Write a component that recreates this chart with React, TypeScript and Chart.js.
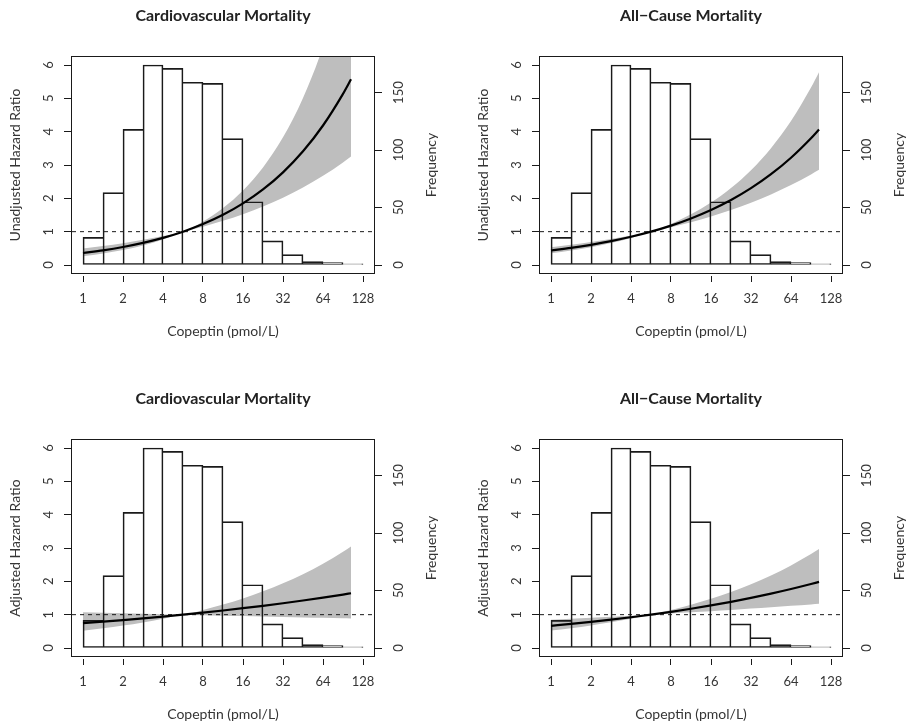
import React, { useEffect, useRef } from 'react';
import { Chart, registerables } from 'chart.js';

Chart.register(...registerables);

// ---------- data ----------
// copeptin values (pmol/L) at which the hazard-ratio curves were read
const copeptinGrid = [1, 1.4142, 2, 2.8284, 4, 5.6569, 8, 11.3137, 16, 22.6274, 32, 45.2548, 64, 90.5097, 104];

// histogram of copeptin (same in all four panels)
const histBinEdges = [1, 1.4142, 2, 2.8284, 4, 5.6569, 8, 11.3137, 16, 22.6274, 32, 45.2548, 64, 90.5097, 128];
const histFrequency = [24, 63, 118, 174, 171, 159, 158, 110, 55, 21, 9, 3, 2, 1];

// tick labels
const xTickLabels = [1, 2, 4, 8, 16, 32, 64, 128];
const hrTicks = [0, 1, 2, 3, 4, 5, 6];
const freqTicks = [0, 50, 100, 150];
const referenceHR = 1;

// Cardiovascular mortality, unadjusted
const cvUnadjHR = [0.36, 0.441, 0.541, 0.664, 0.815, 1, 1.227, 1.505, 1.847, 2.266, 2.78, 3.411, 4.185, 5.135, 5.572];
const cvUnadjLo = [0.261, 0.342, 0.447, 0.585, 0.765, 1, 1.151, 1.325, 1.524, 1.754, 2.019, 2.323, 2.674, 3.077, 3.255];
const cvUnadjHi = [0.495, 0.57, 0.656, 0.755, 0.869, 1, 1.308, 1.711, 2.238, 2.927, 3.829, 5.008, 6.551, 8.568, 9.539];

// All-cause mortality, unadjusted
const acUnadjHR = [0.434, 0.513, 0.606, 0.716, 0.846, 1, 1.182, 1.397, 1.65, 1.95, 2.305, 2.724, 3.219, 3.804, 4.067];
const acUnadjLo = [0.352, 0.433, 0.534, 0.658, 0.811, 1, 1.133, 1.284, 1.455, 1.649, 1.868, 2.117, 2.399, 2.718, 2.858];
const acUnadjHi = [0.535, 0.607, 0.687, 0.779, 0.883, 1, 1.232, 1.519, 1.872, 2.307, 2.843, 3.505, 4.319, 5.323, 5.787];

// Cardiovascular mortality, adjusted
const cvAdjHR = [0.745, 0.79, 0.838, 0.889, 0.943, 1, 1.061, 1.125, 1.194, 1.266, 1.343, 1.425, 1.511, 1.603, 1.642];
const cvAdjLo = [0.516, 0.589, 0.672, 0.767, 0.876, 1, 0.986, 0.971, 0.957, 0.944, 0.93, 0.917, 0.904, 0.891, 0.885];
const cvAdjHi = [1.075, 1.06, 1.045, 1.029, 1.015, 1, 1.142, 1.303, 1.488, 1.699, 1.94, 2.214, 2.528, 2.886, 3.043];

// All-cause mortality, adjusted
const acAdjHR = [0.665, 0.722, 0.783, 0.85, 0.922, 1, 1.085, 1.177, 1.277, 1.385, 1.503, 1.631, 1.769, 1.919, 1.983];
const acAdjLo = [0.523, 0.596, 0.678, 0.772, 0.879, 1, 1.034, 1.069, 1.106, 1.143, 1.182, 1.223, 1.264, 1.307, 1.325];
const acAdjHi = [0.846, 0.875, 0.904, 0.935, 0.967, 1, 1.138, 1.296, 1.475, 1.679, 1.911, 2.175, 2.476, 2.818, 2.968];

// ---------- styling / layout ----------
const FONT = 'Lato, "Open Sans", sans-serif';
const TICK_SIZE = 13;
const LABEL_SIZE = 14;
const TITLE_SIZE = 16;
const TEXT_COLOR = '#353535';
const LINE_COLOR = '#1a1a1a';
const BAND_COLOR = '#BEBEBE';

const X_MIN = -0.275;
const X_MAX = 7.275;
const HR_MIN = -0.24;
const HR_MAX = 6.24;
const FREQ_MIN = -6.96;
const FREQ_MAX = 180.96;

interface PanelCfg {
  title: string;
  yLabel: string;
  hr: number[];
  lo: number[];
  hi: number[];
  x0: number; y0: number; w: number; h: number;
  boxL: number; boxT: number; boxW: number; boxH: number;
  titleY: number;
}

const panels: PanelCfg[] = [
  { title: 'Cardiovascular Mortality', yLabel: 'Unadjusted Hazard Ratio', hr: cvUnadjHR, lo: cvUnadjLo, hi: cvUnadjHi,
    x0: 0, y0: 0, w: 456, h: 365, boxL: 72, boxT: 57, boxW: 302, boxH: 216, titleY: 16 },
  { title: 'All\u2212Cause Mortality', yLabel: 'Unadjusted Hazard Ratio', hr: acUnadjHR, lo: acUnadjLo, hi: acUnadjHi,
    x0: 456, y0: 0, w: 456, h: 365, boxL: 540, boxT: 57, boxW: 302, boxH: 216, titleY: 16 },
  { title: 'Cardiovascular Mortality', yLabel: 'Adjusted Hazard Ratio', hr: cvAdjHR, lo: cvAdjLo, hi: cvAdjHi,
    x0: 0, y0: 380, w: 456, h: 347, boxL: 72, boxT: 440, boxW: 302, boxH: 216, titleY: 398.5 },
  { title: 'All\u2212Cause Mortality', yLabel: 'Adjusted Hazard Ratio', hr: acAdjHR, lo: acAdjLo, hi: acAdjHi,
    x0: 456, y0: 380, w: 456, h: 347, boxL: 540, boxT: 440, boxW: 302, boxH: 216, titleY: 398.5 },
];

const boxPlugin = {
  id: 'plotBox',
  afterDatasetsDraw(chart: any) {
    const { ctx, chartArea } = chart;
    ctx.save();
    ctx.strokeStyle = LINE_COLOR;
    ctx.lineWidth = 1;
    const l = Math.round(chartArea.left) - 0.5;
    const t = Math.round(chartArea.top) - 0.5;
    const r = Math.round(chartArea.right) + 0.5;
    const b = Math.round(chartArea.bottom) + 0.5;
    ctx.strokeRect(l, t, r - l, b - t);
    ctx.restore();
  },
};

const rightTitlePlugin = {
  id: 'rightTitle',
  afterDraw(chart: any, _args: any, opts: any) {
    const { ctx, chartArea } = chart;
    ctx.save();
    ctx.translate(chartArea.right + opts.offset, (chartArea.top + chartArea.bottom) / 2);
    ctx.rotate(-Math.PI / 2);
    ctx.font = `${LABEL_SIZE}px ${FONT}`;
    ctx.fillStyle = TEXT_COLOR;
    ctx.textAlign = 'center';
    ctx.textBaseline = 'middle';
    ctx.fillText(opts.text, 0, 0);
    ctx.restore();
  },
};

function Panel({ cfg }: { cfg: PanelCfg }) {
  const ref = useRef<HTMLCanvasElement>(null);
  useEffect(() => {
    const canvas = ref.current!;
    const yLeftW = cfg.boxL - cfg.x0;
    const yRightW = cfg.x0 + cfg.w - (cfg.boxL + cfg.boxW);
    const titleH = cfg.boxT - cfg.y0;
    const xH = cfg.y0 + cfg.h - (cfg.boxT + cfg.boxH);
    const titleLH = TITLE_SIZE * 1.2;
    const titlePadTop = cfg.titleY - cfg.y0 - titleLH / 2;
    const titlePadBottom = titleH - titleLH - titlePadTop;
    const labelLH = LABEL_SIZE * 1.2;

    const m = document.createElement('canvas').getContext('2d')!;
    m.font = `${TICK_SIZE}px ${FONT}`;
    const wHr = Math.max(...hrTicks.map(v => m.measureText(String(v)).width));
    const wFreq = Math.max(...freqTicks.map(v => m.measureText(String(v)).width));

    const Y_TL = 8;
    const X_TL = 9;
    const leftPad = 23.5 - Y_TL - wHr / 2;
    const rightPad = 24.5 - Y_TL - wFreq / 2;

    const xs = copeptinGrid.map(v => Math.log2(v));
    const toPts = (arr: number[]) => arr.map((y, i) => ({ x: xs[i], y }));
    const barPts = histFrequency.map((f, i) => ({
      x: (Math.log2(histBinEdges[i]) + Math.log2(histBinEdges[i + 1])) / 2,
      y: f,
    }));
    const nBars = histFrequency.length;

    const tickFont = { family: FONT, size: TICK_SIZE };
    const labelFont = { family: FONT, size: LABEL_SIZE };

    const chart = new Chart(canvas, {
      type: 'line',
      data: {
        datasets: [
          {
            type: 'line', data: toPts(cfg.lo), yAxisID: 'y', borderWidth: 0, pointRadius: 0,
            borderColor: 'rgba(0,0,0,0)', cubicInterpolationMode: 'monotone', fill: false, order: 3,
          } as any,
          {
            type: 'line', data: toPts(cfg.hi), yAxisID: 'y', borderWidth: 0, pointRadius: 0,
            borderColor: 'rgba(0,0,0,0)', backgroundColor: BAND_COLOR, cubicInterpolationMode: 'monotone',
            fill: '-1', order: 3,
          } as any,
          {
            type: 'bar', data: barPts, yAxisID: 'y2', backgroundColor: 'rgba(0,0,0,0)', borderColor: LINE_COLOR,
            barPercentage: 1, categoryPercentage: 1, borderSkipped: false, order: 2,
            borderWidth: (c: any) => {
              const i = c.dataIndex;
              const f = histFrequency;
              return {
                top: 1, bottom: 1,
                left: i === 0 || f[i] > f[i - 1] ? 1 : 0,
                right: i === nBars - 1 || f[i] >= f[i + 1] ? 1 : 0,
              };
            },
          } as any,
          {
            type: 'line', data: [{ x: X_MIN, y: referenceHR }, { x: X_MAX, y: referenceHR }], yAxisID: 'y',
            borderColor: LINE_COLOR, borderWidth: 1, borderDash: [4, 4], pointRadius: 0, fill: false, order: 1,
          } as any,
          {
            type: 'line', data: toPts(cfg.hr), yAxisID: 'y', borderColor: '#000', borderWidth: 2.2,
            pointRadius: 0, cubicInterpolationMode: 'monotone', fill: false, order: 0,
          } as any,
        ],
      },
      options: {
        responsive: false,
        animation: false,
        events: [],
        layout: { padding: 0 },
        plugins: {
          legend: { display: false },
          tooltip: { enabled: false },
          title: {
            display: true, text: cfg.title, fullSize: false, color: '#222',
            font: { family: FONT, size: TITLE_SIZE, weight: 'bold', lineHeight: 1.2 },
            padding: { top: titlePadTop, bottom: titlePadBottom },
          },
          rightTitle: { text: 'Frequency', offset: 57.5 },
        } as any,
        scales: {
          x: {
            type: 'linear', min: X_MIN, max: X_MAX, offset: false,
            grid: {
              offset: false, display: true, drawOnChartArea: false, drawTicks: true, tickLength: X_TL,
              tickColor: LINE_COLOR, tickWidth: 1, tickBorderDash: [0, 3, 6, 100],
            } as any,
            border: { display: false },
            ticks: {
              autoSkip: false, maxRotation: 0, minRotation: 0, padding: 9, font: tickFont, color: TEXT_COLOR,
              callback: (_v: any, i: number) => String(xTickLabels[i]),
            },
            afterBuildTicks: (s: any) => { s.ticks = xTickLabels.map(v => ({ value: Math.log2(v) })); },
            afterFit: (s: any) => { s.height = xH; },
            title: {
              display: true, text: 'Copeptin (pmol/L)', color: TEXT_COLOR, font: { ...labelFont, lineHeight: 1.2 },
              padding: { top: 0, bottom: xH - 58.5 - labelLH / 2 },
            },
          },
          y: {
            type: 'linear', position: 'left', min: HR_MIN, max: HR_MAX,
            grid: { display: true, drawOnChartArea: false, drawTicks: true, tickLength: Y_TL, tickColor: LINE_COLOR, tickWidth: 1 },
            border: { display: false },
            ticks: {
              autoSkip: false, minRotation: 90, maxRotation: 90, crossAlign: 'center', padding: leftPad,
              font: tickFont, color: TEXT_COLOR,
            },
            afterBuildTicks: (s: any) => { s.ticks = hrTicks.map(v => ({ value: v })); },
            afterFit: (s: any) => { s.width = yLeftW; },
            title: {
              display: true, text: cfg.yLabel, color: TEXT_COLOR, font: { ...labelFont, lineHeight: 1.2 },
              padding: { top: yLeftW - 57 - labelLH / 2, bottom: 0 },
            },
          },
          y2: {
            type: 'linear', position: 'right', min: FREQ_MIN, max: FREQ_MAX,
            grid: { display: true, drawOnChartArea: false, drawTicks: true, tickLength: Y_TL, tickColor: LINE_COLOR, tickWidth: 1 },
            border: { display: false },
            ticks: {
              autoSkip: false, minRotation: 90, maxRotation: 90, crossAlign: 'center', padding: rightPad,
              font: tickFont, color: TEXT_COLOR,
            },
            afterBuildTicks: (s: any) => { s.ticks = freqTicks.map(v => ({ value: v })); },
            afterFit: (s: any) => { s.width = yRightW; },
          },
        } as any,
      },
      plugins: [boxPlugin, rightTitlePlugin],
    } as any);
    return () => chart.destroy();
  }, [cfg]);

  return (
    <div style={{ position: 'absolute', left: cfg.x0, top: cfg.y0, width: cfg.w, height: cfg.h }}>
      <canvas ref={ref} width={cfg.w} height={cfg.h} style={{ width: cfg.w, height: cfg.h, display: 'block' }} />
    </div>
  );
}

export default function App() {
  return (
    <div style={{ position: 'absolute', left: 0, top: 0, width: 912, height: 727, overflow: 'hidden', background: '#fff' }}>
      {panels.map((p, i) => <Panel key={i} cfg={p} />)}
    </div>
  );
}
